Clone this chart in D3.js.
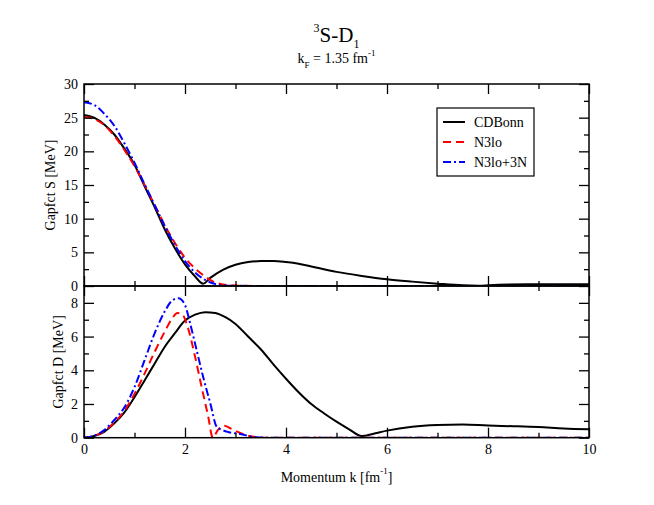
<!DOCTYPE html>
<html>
<head>
<meta charset="utf-8">
<script src="https://cdn.jsdelivr.net/npm/d3@7"></script>
<style>
  body { margin: 0; background: #fff; }
  text { font-family: "Liberation Serif", "Times New Roman", serif; fill: #000; }
</style>
</head>
<body>
<div id="chart"></div>
<script>
// momentum grids and gap functions
const kS_cdb = [0, 0.2, 0.4, 0.6, 0.8, 1.0, 1.2, 1.4, 1.6, 1.8, 2.0, 2.2, 2.36, 2.5, 2.75, 3.0, 3.25, 3.5, 3.75, 4.0, 4.25, 4.5, 5.0, 5.5, 6.0, 6.5, 7.0, 7.5, 7.8, 8.2, 9.0, 10];
const S_cdb  = [25.4, 25.0, 24.0, 22.5, 20.4, 18.0, 14.8, 11.7, 8.4, 5.6, 3.2, 1.4, 0.35, 1.2, 2.4, 3.15, 3.55, 3.7, 3.7, 3.55, 3.3, 2.9, 2.1, 1.5, 1.0, 0.65, 0.35, 0.1, 0.05, 0.2, 0.25, 0.25];

const kS_n3lo = [0, 0.2, 0.4, 0.6, 0.8, 1.0, 1.2, 1.4, 1.6, 1.8, 2.0, 2.2, 2.4, 2.55, 2.7, 2.9, 3.2, 3.5, 10];
const S_n3lo  = [25.1, 24.8, 23.9, 22.3, 20.2, 17.8, 15.0, 12.0, 9.0, 6.4, 4.2, 2.6, 1.4, 0.7, 0.3, 0.12, 0.03, 0, 0];

const kS_3n = [0, 0.2, 0.4, 0.6, 0.8, 1.0, 1.2, 1.4, 1.6, 1.8, 2.0, 2.2, 2.4, 2.55, 2.7, 3.0, 3.5, 10];
const S_3n  = [27.3, 26.9, 25.6, 23.8, 21.2, 18.3, 15.1, 12.0, 8.9, 6.1, 3.7, 2.0, 0.9, 0.4, 0.12, 0.03, 0, 0];

const kD_cdb = [0, 0.2, 0.4, 0.6, 0.8, 1.0, 1.2, 1.4, 1.6, 1.8, 2.0, 2.2, 2.4, 2.6, 2.8, 3.0, 3.25, 3.5, 3.75, 4.0, 4.25, 4.5, 4.75, 5.0, 5.25, 5.5, 5.75, 6.0, 6.5, 7.0, 7.5, 8.0, 8.5, 9.0, 9.5, 10];
const D_cdb  = [0, 0.1, 0.35, 0.85, 1.5, 2.4, 3.4, 4.4, 5.4, 6.2, 6.95, 7.3, 7.45, 7.4, 7.15, 6.75, 6.0, 5.25, 4.35, 3.5, 2.7, 2.0, 1.45, 0.95, 0.5, 0.1, 0.25, 0.42, 0.65, 0.75, 0.78, 0.72, 0.68, 0.63, 0.55, 0.5];

const kD_n3lo = [0, 0.2, 0.4, 0.6, 0.8, 1.0, 1.2, 1.4, 1.6, 1.75, 1.85, 1.95, 2.05, 2.2, 2.33, 2.46, 2.55, 2.65, 2.76, 2.96, 3.2, 3.45, 3.7, 10];
const D_n3lo  = [0, 0.1, 0.4, 0.9, 1.6, 2.6, 3.8, 5.1, 6.3, 7.1, 7.4, 7.3, 6.6, 4.8, 3.0, 1.25, 0.0, 0.45, 0.72, 0.46, 0.16, 0.03, 0, 0];

const kD_3n = [0, 0.2, 0.4, 0.6, 0.8, 1.0, 1.2, 1.4, 1.6, 1.75, 1.87, 2.0, 2.1, 2.23, 2.36, 2.5, 2.63, 2.83, 3.09, 3.42, 3.7, 10];
const D_3n  = [0, 0.12, 0.45, 1.05, 1.8, 3.0, 4.6, 6.2, 7.5, 8.15, 8.27, 7.87, 6.8, 5.2, 3.6, 2.05, 0.65, 0.36, 0.22, 0.02, 0, 0];

const seriesNames = ["CDBonn", "N3lo", "N3lo+3N"];
const xTicks = [0, 2, 4, 6, 8, 10];
const xMinor = [1, 3, 5, 7, 9];
const yTicksS = [0, 5, 10, 15, 20, 25, 30];
const yMinorS = [2.5, 7.5, 12.5, 17.5, 22.5, 27.5];
const yTicksD = [0, 2, 4, 6, 8];
const yMinorD = [1, 3, 5, 7];

const width = 654, height = 505;
const left = 84, right = 589;
const topS = 84, midY = 286, botD = 437.7;

const styles = [
  { color: "#000", dash: null },
  { color: "#ff0000", dash: "8,5" },
  { color: "#0000ff", dash: "8,3,2,3" }
];

const svg = d3.select("#chart").append("svg")
  .attr("width", width)
  .attr("height", height);

const x = d3.scaleLinear().domain([0, 10]).range([left, right]);
const yS = d3.scaleLinear().domain([0, 30]).range([midY, topS]);
const yD = d3.scaleLinear().domain([0, 9]).range([botD, midY]);

const zip = (ks, vs) => ks.map((k, i) => ({ k: k, v: vs[i] }));
const panelS = [zip(kS_cdb, S_cdb), zip(kS_n3lo, S_n3lo), zip(kS_3n, S_3n)];
const panelD = [zip(kD_cdb, D_cdb), zip(kD_n3lo, D_n3lo), zip(kD_3n, D_3n)];

// clip paths for both panels
const defs = svg.append("defs");
defs.append("clipPath").attr("id", "clipS").append("rect")
  .attr("x", left).attr("y", topS).attr("width", right - left).attr("height", midY - topS);
defs.append("clipPath").attr("id", "clipD").append("rect")
  .attr("x", left).attr("y", midY).attr("width", right - left).attr("height", botD - midY);

function drawCurves(data, y, clip) {
  const line = d3.line()
    .x(d => x(d.k))
    .y(d => y(d.v))
    .curve(d3.curveMonotoneX);
  const g = svg.append("g").attr("clip-path", `url(#${clip})`);
  data.forEach((s, i) => {
    g.append("path")
      .datum(s)
      .attr("fill", "none")
      .attr("stroke", styles[i].color)
      .attr("stroke-width", 2)
      .attr("stroke-dasharray", styles[i].dash)
      .attr("d", line);
  });
}

drawCurves(panelS, yS, "clipS");
drawCurves(panelD, yD, "clipD");

// inward ticks: major then minor on each side
function ticks(axisFn, scale, major, minor, pos, isX, labels) {
  const tr = isX ? `translate(0,${pos})` : `translate(${pos},0)`;
  const gMaj = svg.append("g").attr("transform", tr)
    .call(axisFn(scale).tickValues(major).tickSize(-10).tickSizeOuter(0).tickPadding(labels ? 6 : 0)
      .tickFormat(labels ? d3.format("d") : () => ""));
  const gMin = svg.append("g").attr("transform", tr)
    .call(axisFn(scale).tickValues(minor).tickSize(-5).tickSizeOuter(0).tickFormat(() => ""));
  [gMaj, gMin].forEach(g => {
    g.select(".domain").remove();
    g.selectAll("line").attr("stroke", "#000").attr("stroke-width", 1.3);
    g.selectAll("text").style("font-size", "14px").attr("fill", "#000")
      .style("font-family", '"Liberation Serif", "Times New Roman", serif');
    if (!labels) g.selectAll("text").remove();
  });
}

// top panel
ticks(d3.axisTop, x, xTicks, xMinor, topS, true, false);
ticks(d3.axisBottom, x, xTicks, xMinor, midY, true, false);
ticks(d3.axisLeft, yS, yTicksS, yMinorS, left, false, true);
ticks(d3.axisRight, yS, yTicksS, yMinorS, right, false, false);
// bottom panel
ticks(d3.axisTop, x, xTicks, xMinor, midY, true, false);
ticks(d3.axisBottom, x, xTicks, xMinor, botD, true, true);
ticks(d3.axisLeft, yD, yTicksD, yMinorD, left, false, true);
ticks(d3.axisRight, yD, yTicksD, yMinorD, right, false, false);

// frames
[[topS, midY], [midY, botD]].forEach(([t, b]) => {
  svg.append("rect")
    .attr("x", left).attr("y", t)
    .attr("width", right - left).attr("height", b - t)
    .attr("fill", "none").attr("stroke", "#000").attr("stroke-width", 1.5);
});

// title
const title = svg.append("text")
  .attr("x", (left + right) / 2).attr("y", 42)
  .attr("text-anchor", "middle").style("font-size", "21px");
title.append("tspan").attr("dy", -10).style("font-size", "12px").text("3");
title.append("tspan").attr("dy", 10).text("S-D");
title.append("tspan").attr("dy", 6).style("font-size", "12px").text("1");

const sub = svg.append("text")
  .attr("x", (left + right) / 2).attr("y", 63)
  .attr("text-anchor", "middle").style("font-size", "14px");
sub.append("tspan").text("k");
sub.append("tspan").attr("dy", 5).style("font-size", "9px").text("F");
sub.append("tspan").attr("dy", -5).text(" = 1.35 fm");
sub.append("tspan").attr("dy", -7).style("font-size", "9px").text("-1");

// axis labels
svg.append("text")
  .attr("transform", `translate(55,${(topS + midY) / 2}) rotate(-90)`)
  .attr("text-anchor", "middle").style("font-size", "14px")
  .text("Gapfct S [MeV]");
svg.append("text")
  .attr("transform", `translate(63,${(midY + botD) / 2}) rotate(-90)`)
  .attr("text-anchor", "middle").style("font-size", "14px")
  .text("Gapfct D [MeV]");

const xl = svg.append("text")
  .attr("x", (left + right) / 2).attr("y", 482)
  .attr("text-anchor", "middle").style("font-size", "14px");
xl.append("tspan").text("Momentum k [fm");
xl.append("tspan").attr("dy", -8).style("font-size", "9px").text("-1");
xl.append("tspan").attr("dy", 8).text("]");

// legend
const lg = svg.append("g");
lg.append("rect")
  .attr("x", 437).attr("y", 108).attr("width", 97).attr("height", 68)
  .attr("fill", "#fff").attr("stroke", "#000").attr("stroke-width", 1.2);
seriesNames.forEach((name, i) => {
  const yy = 122 + i * 20;
  lg.append("line")
    .attr("x1", 443).attr("x2", 465).attr("y1", yy).attr("y2", yy)
    .attr("stroke", styles[i].color).attr("stroke-width", 2)
    .attr("stroke-dasharray", styles[i].dash);
  lg.append("text")
    .attr("x", 474).attr("y", yy).attr("dy", "0.35em")
    .style("font-size", "14px").text(name);
});
</script>
</body>
</html>
